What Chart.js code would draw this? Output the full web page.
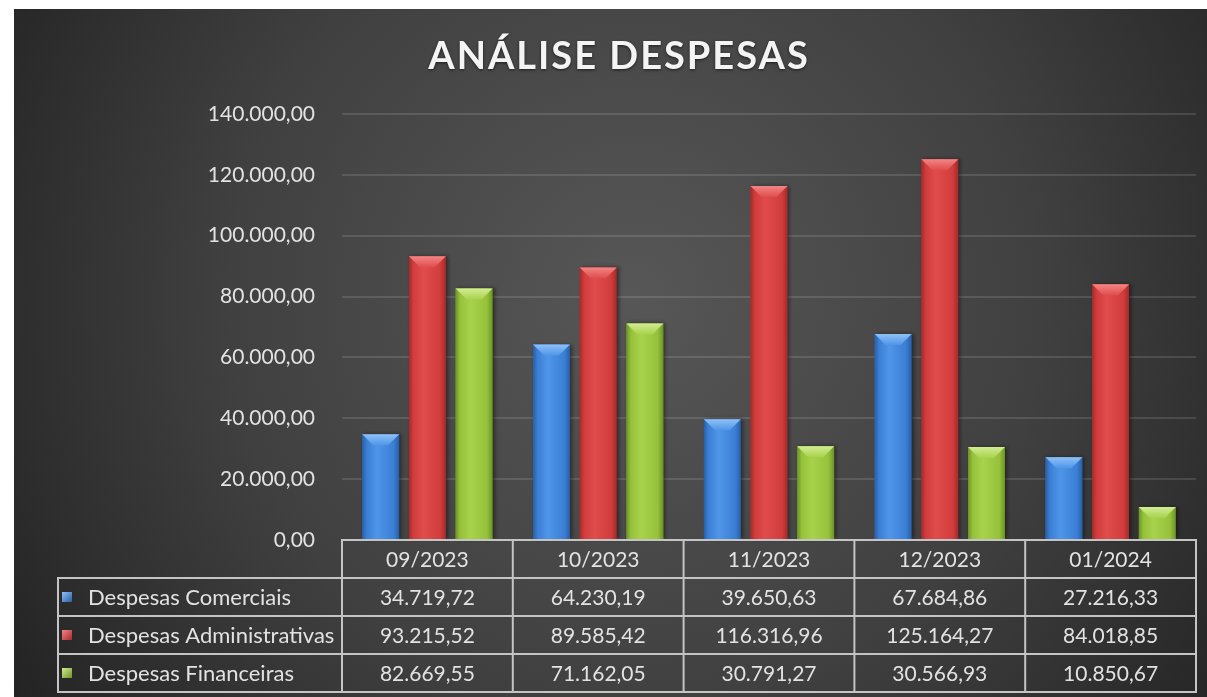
<!DOCTYPE html>
<html lang="pt-BR">
<head>
  <meta charset="UTF-8" />
  <title>Análise Despesas</title>
  <script src="https://cdn.jsdelivr.net/npm/chart.js"></script>
  <style>
    body { margin: 0; background: #fff; font-family: Lato, sans-serif; }
    #wrap { position: absolute; left: 14px; top: 9px; width: 1193px; height: 688px; }
  </style>
</head>
<body>
  <div id="wrap"><canvas id="despesasChart"></canvas></div>
  <script>
    // dados
    const categories = ['09/2023', '10/2023', '11/2023', '12/2023', '01/2024'];
    const seriesNames = ['Despesas Comerciais', 'Despesas Administrativas', 'Despesas Financeiras'];
    const comerciais = [34719.72, 64230.19, 39650.63, 67684.86, 27216.33];
    const administrativas = [93215.52, 89585.42, 116316.96, 125164.27, 84018.85];
    const financeiras = [82669.55, 71162.05, 30791.27, 30566.93, 10850.67];
    const yMin = 0, yMax = 140000, yStep = 20000;
    const chartTitle = 'ANÁLISE DESPESAS';

    // cores das barras: escuro, base, claro, topo
    const palettes = [
      ['#2a5ea6', '#3a7fd5', '#4f95e8', '#8fc0f6'],
      ['#a52a2a', '#d13c3c', '#e04c4c', '#f38585'],
      ['#6c9424', '#95c13b', '#a8d24c', '#d2ec94']
    ];
    const FONT = 'Lato, "Open Sans", sans-serif';
    const textColor = '#e2e2e2';
    const lineColor = '#c4c4c4';

    // formato pt-BR: 140.000,00
    function fmt(v) {
      const parts = Number(v).toFixed(2).split('.');
      return parts[0].replace(/\B(?=(\d{3})+(?!\d))/g, '.') + ',' + parts[1];
    }

    const bgPlugin = {
      id: 'bg',
      beforeDraw(chart) {
        const c = chart.ctx;
        const w = chart.width, h = chart.height;
        const g = c.createRadialGradient(w * 0.52, h * 0.42, 0, w * 0.52, h * 0.42, w * 0.62);
        g.addColorStop(0, '#575757');
        g.addColorStop(0.55, '#404040');
        g.addColorStop(1, '#232323');
        c.save();
        c.fillStyle = g;
        c.fillRect(0, 0, w, h);
        c.restore();
      }
    };

    // barras com efeito chanfrado
    const bevelPlugin = {
      id: 'bevel',
      afterDatasetsDraw(chart) {
        const c = chart.ctx;
        chart.data.datasets.forEach((ds, di) => {
          const pal = palettes[di];
          chart.getDatasetMeta(di).data.forEach(bar => {
            const l = bar.x - bar.width / 2, r = bar.x + bar.width / 2;
            const top = bar.y, bottom = bar.base;
            const g = c.createLinearGradient(l, 0, r, 0);
            g.addColorStop(0, pal[0]);
            g.addColorStop(0.12, pal[1]);
            g.addColorStop(0.4, pal[2]);
            g.addColorStop(0.85, pal[1]);
            g.addColorStop(1, pal[0]);
            c.save();
            c.shadowColor = 'rgba(0,0,0,0.45)';
            c.shadowBlur = 4;
            c.shadowOffsetX = 2;
            c.fillStyle = g;
            c.fillRect(l, top, r - l, bottom - top);
            c.restore();
            const b = Math.min(11, (bottom - top) / 2);
            c.save();
            const tg = c.createLinearGradient(0, top, 0, top + b);
            tg.addColorStop(0, pal[3]);
            tg.addColorStop(1, pal[2]);
            c.fillStyle = tg;
            c.beginPath();
            c.moveTo(l, top);
            c.lineTo(r, top);
            c.lineTo(r - b, top + b);
            c.lineTo(l + b, top + b);
            c.closePath();
            c.fill();
            c.restore();
          });
        });
      }
    };

    // título e tabela de dados
    const tablePlugin = {
      id: 'dataTable',
      afterDraw(chart) {
        const c = chart.ctx;
        const area = chart.chartArea;
        const x = chart.scales.x;
        const colW = (area.right - area.left) / categories.length;
        const rowH = 38;
        const top = area.bottom;
        const legendLeft = 44;
        const allSeries = [comerciais, administrativas, financeiras];

        c.save();
        // título
        c.font = 'bold 38px ' + FONT;
        c.letterSpacing = '2px';
        c.textAlign = 'center';
        c.textBaseline = 'middle';
        c.shadowColor = 'rgba(0,0,0,0.6)';
        c.shadowBlur = 3;
        c.shadowOffsetY = 1;
        c.fillStyle = '#f4f4f4';
        c.fillText(chartTitle, 605, 48);
        c.restore();

        c.save();
        c.strokeStyle = lineColor;
        c.lineWidth = 2;
        c.beginPath();
        // cabeçalho
        c.rect(area.left, top, area.right - area.left, rowH);
        // linhas das séries
        for (let i = 0; i < allSeries.length; i++) {
          c.rect(legendLeft, top + rowH * (i + 1), area.right - legendLeft, rowH);
        }
        for (let k = 1; k < categories.length; k++) {
          const cx = area.left + colW * k;
          c.moveTo(cx, top);
          c.lineTo(cx, top + rowH * (allSeries.length + 1));
        }
        c.moveTo(area.left, top + rowH);
        c.lineTo(area.left, top + rowH * (allSeries.length + 1));
        c.stroke();

        c.font = '21px ' + FONT;
        c.fillStyle = textColor;
        c.textBaseline = 'middle';
        c.textAlign = 'center';
        categories.forEach((cat, k) => {
          c.fillText(cat, x.getPixelForTick(k), top + rowH / 2 + 1);
        });
        allSeries.forEach((vals, i) => {
          const cy = top + rowH * (i + 1) + rowH / 2 + 1;
          vals.forEach((v, k) => {
            c.fillText(fmt(v), x.getPixelForTick(k), cy);
          });
        });
        c.textAlign = 'left';
        c.font = '22px ' + FONT;
        seriesNames.forEach((name, i) => {
          const cy = top + rowH * (i + 1) + rowH / 2;
          const pal = palettes[i];
          const g = c.createLinearGradient(legendLeft + 4, cy - 5, legendLeft + 14, cy + 5);
          g.addColorStop(0, pal[3]);
          g.addColorStop(1, pal[0]);
          c.fillStyle = g;
          c.fillRect(legendLeft + 4, cy - 5, 10, 10);
          c.fillStyle = textColor;
          c.fillText(name, legendLeft + 30, cy + 1);
        });
        c.restore();
      }
    };

    const dataSets = [comerciais, administrativas, financeiras].map((vals, i) => ({
      label: seriesNames[i],
      data: vals,
      backgroundColor: palettes[i][1],
      categoryPercentage: 0.82,
      barPercentage: 0.79
    }));

    new Chart(document.getElementById('despesasChart'), {
      type: 'bar',
      data: { labels: categories, datasets: dataSets },
      plugins: [bgPlugin, bevelPlugin, tablePlugin],
      options: {
        responsive: true,
        maintainAspectRatio: false,
        devicePixelRatio: 1,
        animation: false,
        layout: { padding: { left: 0, right: 11, top: 105, bottom: 157 } },
        plugins: { legend: { display: false }, title: { display: false }, tooltip: { enabled: false } },
        scales: {
          x: { display: false },
          y: {
            min: yMin,
            max: yMax,
            afterFit(scale) { scale.width = 328; },
            ticks: {
              stepSize: yStep,
              padding: 27,
              color: textColor,
              font: { family: FONT, size: 21 },
              callback: v => fmt(v)
            },
            grid: { color: 'rgba(255,255,255,0.12)', lineWidth: 2, drawTicks: false },
            border: { display: false }
          }
        }
      }
    });
  </script>
</body>
</html>
